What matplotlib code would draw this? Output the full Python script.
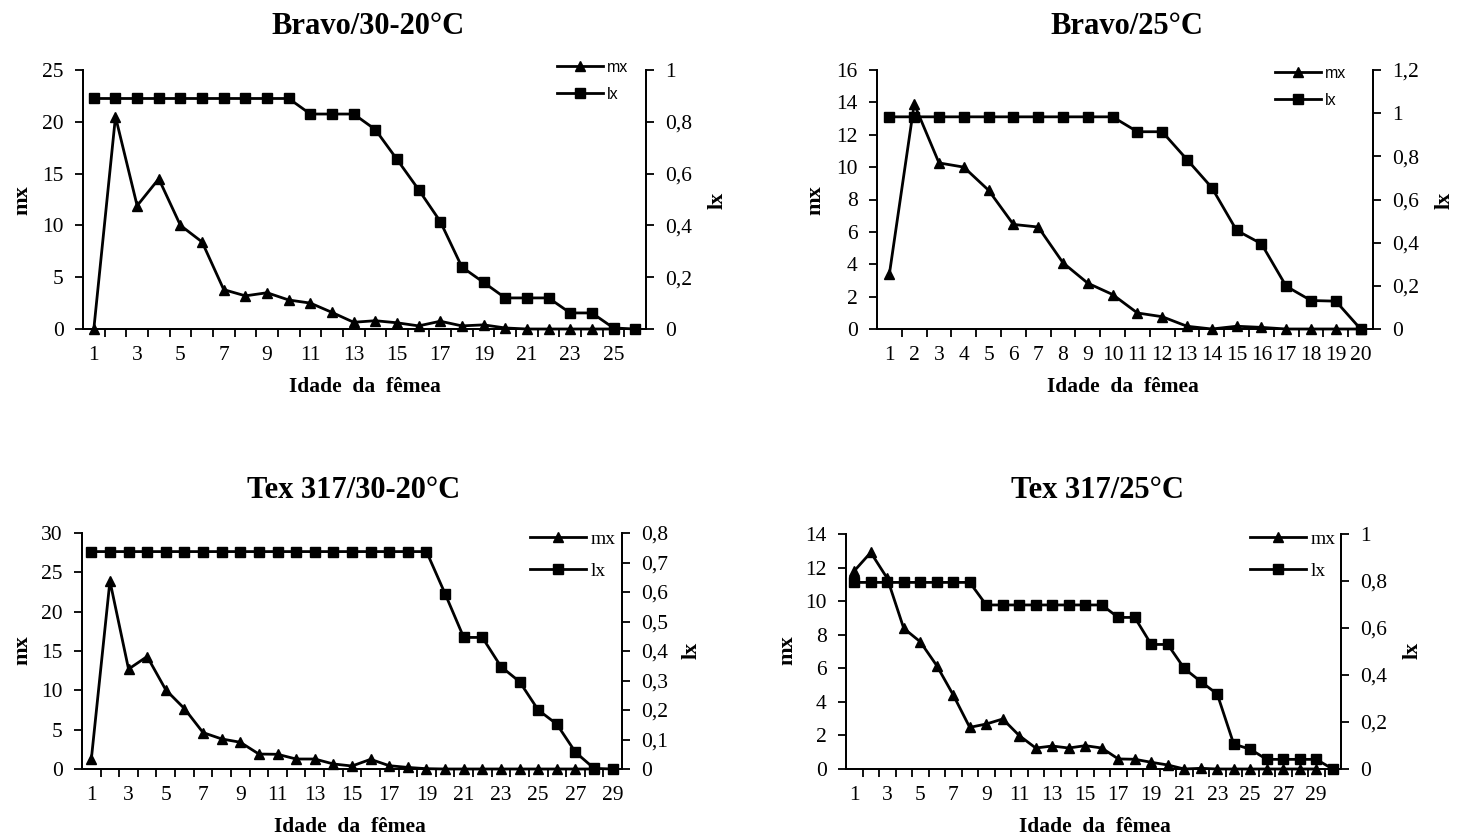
import numpy as np
import matplotlib
matplotlib.use("Agg")
import matplotlib.pyplot as plt
from matplotlib.ticker import FixedLocator, FuncFormatter

# ---------------- data ----------------
titles = ["Bravo/30-20°C", "Bravo/25°C", "Tex 317/30-20°C", "Tex 317/25°C"]

mx_bravo_3020 = [0, 20.5, 11.9, 14.5, 10.0, 8.4, 3.8, 3.2, 3.5, 2.8, 2.5, 1.6, 0.65,
                 0.8, 0.6, 0.3, 0.75, 0.3, 0.4, 0.1, 0, 0, 0, 0, 0]
lx_bravo_3020 = [0.89] * 10 + [0.83, 0.83, 0.83, 0.77, 0.655, 0.538, 0.415, 0.239,
                               0.18, 0.12, 0.12, 0.12, 0.062, 0.062, 0.004, 0]

mx_bravo_25 = [3.4, 13.9, 10.26, 10.0, 8.57, 6.46, 6.3, 4.09, 2.83, 2.13, 0.99, 0.76,
               0.17, 0.0, 0.17, 0.1, 0, 0, 0, 0]
lx_bravo_25 = [0.983] * 10 + [0.914, 0.914, 0.785, 0.655, 0.457, 0.395, 0.198,
                              0.132, 0.129, 0]

mx_tex_3020 = [1.23, 23.9, 12.7, 14.3, 10.06, 7.68, 4.63, 3.82, 3.4, 1.9, 1.87, 1.27,
               1.27, 0.64, 0.38, 1.23, 0.42, 0.2, 0.04, 0, 0, 0, 0, 0, 0, 0, 0, 0]
lx_tex_3020 = [0.737] * 19 + [0.594, 0.446, 0.446, 0.347, 0.296, 0.2, 0.152, 0.057,
                              0.002, 0]

mx_tex_25 = [11.8, 12.9, 11.36, 8.38, 7.58, 6.16, 4.41, 2.48, 2.68, 2.98, 1.99, 1.25,
             1.37, 1.25, 1.39, 1.25, 0.6, 0.58, 0.4, 0.24, 0, 0.04, 0, 0, 0, 0, 0, 0, 0]
lx_tex_25 = [0.794] * 8 + [0.698] * 8 + [0.645, 0.645, 0.53, 0.53, 0.428, 0.372,
                                         0.319, 0.106, 0.084, 0.041, 0.041, 0.041,
                                         0.041, 0]

mx_series = [mx_bravo_3020, mx_bravo_25, mx_tex_3020, mx_tex_25]
lx_series = [lx_bravo_3020, lx_bravo_25, lx_tex_3020, lx_tex_25]

mx_ticks = [np.arange(0, 26, 5), np.arange(0, 17, 2), np.arange(0, 31, 5), np.arange(0, 15, 2)]
lx_ticks = [np.round(np.arange(0, 1.01, 0.2), 2), np.round(np.arange(0, 1.21, 0.2), 2),
            np.round(np.arange(0, 0.81, 0.1), 2), np.round(np.arange(0, 1.01, 0.2), 2)]
label_step = [2, 1, 2, 2]

# ---------------- layout (pixels) ----------------
W, H = 1457, 839
boxes = [(83, 646, 70, 329), (877, 1373, 70, 329), (82, 622, 533, 769), (846, 1341, 534, 769)]
title_pos = [(368, 27), (1127, 27), (354, 490), (1097, 490)]
xlab_pos = [(365, 387), (1123, 387), (350, 827), (1095, 827)]
mxlab_pos = [(22, 200), (815, 200), (22, 650), (787, 650)]
lxlab_pos = [(718, 200), (1445, 200), (692, 650), (1413, 650)]
leg_pos = [(557, 60), (1275, 66), (530, 530), (1250, 530)]
leg_font = [dict(family="Liberation Sans", size=11.5), dict(family="Liberation Sans", size=11.5),
            dict(family="Liberation Serif", size=14), dict(family="Liberation Serif", size=14)]

SERIF = "Liberation Serif"
plt.rcParams["font.family"] = SERIF

fig = plt.figure(figsize=(W / 100, H / 100), dpi=100)

def comma(v, pos=None):
    s = "{:g}".format(round(v, 2))
    return s.replace(".", ",")

def fx(px):
    return px / W

def fy(py):
    return 1 - py / H

for i in range(4):
    l, r, t, b = boxes[i]
    ax = fig.add_axes([fx(l), fy(b), (r - l) / W, (b - t) / H])
    ax2 = ax.twinx()
    mx = mx_series[i]
    lx = lx_series[i]
    n = len(lx)
    x_mx = np.arange(1, len(mx) + 1)
    x_lx = np.arange(1, n + 1)

    h1, = ax.plot(x_mx, mx, color="black", lw=2.0, marker="^", ms=6.5,
                  clip_on=False, zorder=3, label="mx")
    h2, = ax2.plot(x_lx, lx, color="black", lw=2.0, marker="s", ms=6.5,
                   clip_on=False, zorder=3, label="lx")

    ax.set_xlim(0.5, n + 0.5)
    ax.set_ylim(mx_ticks[i][0], mx_ticks[i][-1])
    ax2.set_ylim(lx_ticks[i][0], lx_ticks[i][-1])

    ax.set_yticks(mx_ticks[i])
    ax2.set_yticks(lx_ticks[i])
    ax.yaxis.set_major_formatter(FuncFormatter(comma))
    ax2.yaxis.set_major_formatter(FuncFormatter(comma))

    ax.xaxis.set_major_locator(FixedLocator(x_lx))
    ax.set_xticklabels([str(k) if (k - 1) % label_step[i] == 0 else "" for k in x_lx])
    ax.xaxis.set_minor_locator(FixedLocator(np.arange(1.5, n, 1.0)))
    ax.tick_params(axis="x", which="major", length=0, pad=12, labelsize=15.5)
    ax.tick_params(axis="x", which="minor", length=6, width=1.3, direction="out")
    ax.tick_params(axis="y", length=6, width=1.3, direction="out", labelsize=15.5, pad=8)
    ax2.tick_params(axis="y", length=6, width=1.3, direction="out", labelsize=15.5, pad=8)

    for a in (ax, ax2):
        a.spines["top"].set_visible(False)
        for s in ("left", "right", "bottom"):
            a.spines[s].set_linewidth(1.3)
        a.patch.set_visible(False)

    fig.text(fx(title_pos[i][0]), fy(title_pos[i][1]), titles[i], ha="center", va="center",
             fontsize=22, fontweight="bold", family=SERIF)
    fig.text(fx(xlab_pos[i][0]), fy(xlab_pos[i][1]), "Idade  da  fêmea", ha="center",
             va="center", fontsize=15.5, fontweight="bold", family=SERIF)
    fig.text(fx(mxlab_pos[i][0]), fy(mxlab_pos[i][1]), "mx", ha="center", va="center",
             rotation=90, fontsize=16, fontweight="bold", family=SERIF)
    fig.text(fx(lxlab_pos[i][0]), fy(lxlab_pos[i][1]), "lx", ha="center", va="center",
             rotation=90, fontsize=16, fontweight="bold", family=SERIF)

    ax2.legend([h1, h2], ["mx", "lx"], loc="upper left",
               bbox_to_anchor=(fx(leg_pos[i][0]), fy(leg_pos[i][1])),
               bbox_transform=fig.transFigure, frameon=False, borderpad=0,
               borderaxespad=0, handlelength=2.9, handletextpad=0.2,
               labelspacing=0.75, prop=leg_font[i])

fig.savefig("out.png", dpi=100)
